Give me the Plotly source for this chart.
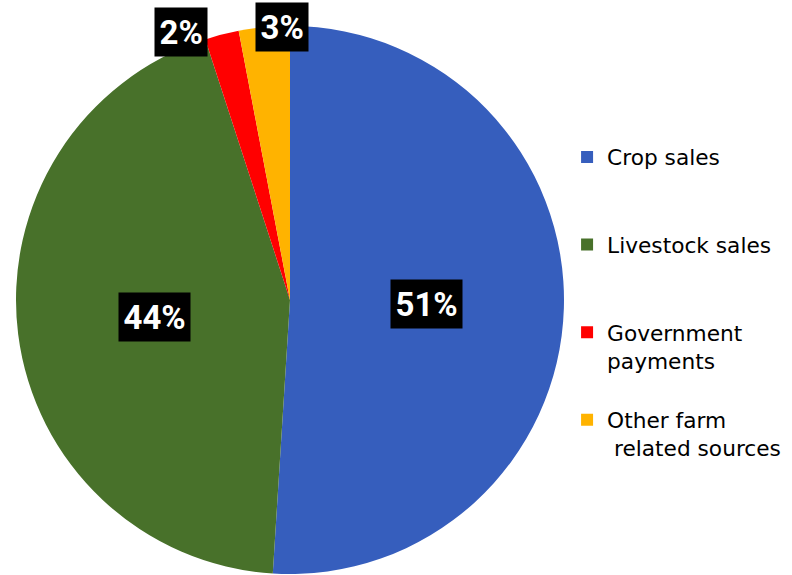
import math
import plotly.graph_objects as go

# ---- data ----
categories = ["Crop sales", "Livestock sales", "Government payments", "Other farm related sources"]
legend_text = ["Crop sales", "Livestock sales", "Government<br>payments", "Other farm<br> related sources"]
values = [51, 44, 2, 3]
pct_labels = ["51%", "44%", "2%", "3%"]

# ---- styles / layout ----
colors = ["#365EBD", "#48712A", "#FF0000", "#FFB300"]
W, H = 792, 575
cx, cy, R = 290, 300, 274          # pie centre / radius in px
label_frac = [0.5, 0.5, 1.01, 1.0]  # radial position of labels
label_xshift = [0, 0, -40, 18]
LABEL_FONT = "Roboto, Arial, sans-serif"
LEGEND_FONT = "DejaVu Sans, Roboto, sans-serif"

# pad legend entries to 3 lines each so spacing matches
pad_names = []
for t in legend_text:
    n = t.count("<br>") + 1
    pad_names.append(t + "<br>\u00a0" * (3 - n))

fig = go.Figure(go.Pie(
    labels=pad_names,
    values=values,
    sort=False,
    direction="clockwise",
    rotation=0,
    marker=dict(colors=colors, line=dict(width=0)),
    textinfo="none",
    hoverinfo="label+percent",
    domain=dict(x=[(cx - R) / W, (cx + R) / W], y=[1 - (cy + R) / H, 1 - (cy - R) / H]),
))

# labels computed from slice mid-angles
total = sum(values)
cum = 0
annotations = []
for i, v in enumerate(values):
    mid = (cum + v / 2) / total * 2 * math.pi
    cum += v
    px = cx + label_frac[i] * R * math.sin(mid)
    py = cy - label_frac[i] * R * math.cos(mid)
    annotations.append(dict(
        x=px / W, y=1 - py / H, xref="paper", yref="paper",
        xanchor="center", yanchor="middle",
        text="<b>" + pct_labels[i] + "</b>", showarrow=False,
        xshift=label_xshift[i],
        font=dict(family=LABEL_FONT, size=33, color="white"),
        bgcolor="black", borderpad=4.5,
    ))

fig.update_layout(
    width=W, height=H,
    margin=dict(l=0, r=0, t=0, b=0),
    paper_bgcolor="white",
    showlegend=True,
    legend=dict(
        x=0.716, y=0.763, xanchor="left", yanchor="top",
        font=dict(family=LEGEND_FONT, size=21.7, color="black"),
        valign="top", itemwidth=30,
    ),
    annotations=annotations,
)

fig.write_html("out.html")
